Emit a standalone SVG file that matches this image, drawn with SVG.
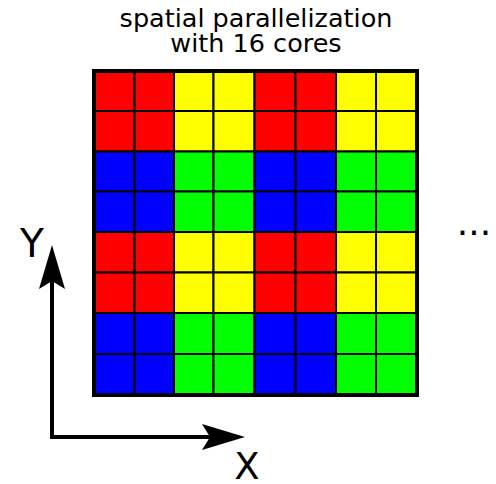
<svg xmlns="http://www.w3.org/2000/svg" width="496" height="484" viewBox="0 0 496 484">
<style>
text{font-family:"DejaVu Sans",sans-serif;fill:#000}
.c{stroke:#000;stroke-width:2}
.r{fill:#ff0000}.y{fill:#ffff00}.b{fill:#0000ff}.g{fill:#00ff00}
.ax{stroke:#000;stroke-width:4;fill:none}
</style>
<rect width="496" height="484" fill="#fff"/>
<g id="title">
<text x="256" y="27" font-size="25.5" text-anchor="middle">spatial parallelization</text>
<text x="256" y="52" font-size="25.5" text-anchor="middle">with 16 cores</text>
</g>
<g id="grid">
<rect x="93.5" y="70.5" width="324" height="325" fill="#000"/>
<g class="c">
<!-- row 0 -->
<rect class="r" x="95" y="72" width="39.5" height="39"/><rect class="r" x="134.5" y="72" width="39.5" height="39"/><rect class="y" x="174" y="72" width="39.5" height="39"/><rect class="y" x="213.5" y="72" width="41" height="39"/><rect class="r" x="254.5" y="72" width="41" height="39"/><rect class="r" x="295.5" y="72" width="40.5" height="39"/><rect class="y" x="336" y="72" width="40" height="39"/><rect class="y" x="376" y="72" width="40" height="39"/>
<!-- row 1 -->
<rect class="r" x="95" y="111" width="39.5" height="40.5"/><rect class="r" x="134.5" y="111" width="39.5" height="40.5"/><rect class="y" x="174" y="111" width="39.5" height="40.5"/><rect class="y" x="213.5" y="111" width="41" height="40.5"/><rect class="r" x="254.5" y="111" width="41" height="40.5"/><rect class="r" x="295.5" y="111" width="40.5" height="40.5"/><rect class="y" x="336" y="111" width="40" height="40.5"/><rect class="y" x="376" y="111" width="40" height="40.5"/>
<!-- row 2 -->
<rect class="b" x="95" y="151.5" width="39.5" height="40"/><rect class="b" x="134.5" y="151.5" width="39.5" height="40"/><rect class="g" x="174" y="151.5" width="39.5" height="40"/><rect class="g" x="213.5" y="151.5" width="41" height="40"/><rect class="b" x="254.5" y="151.5" width="41" height="40"/><rect class="b" x="295.5" y="151.5" width="40.5" height="40"/><rect class="g" x="336" y="151.5" width="40" height="40"/><rect class="g" x="376" y="151.5" width="40" height="40"/>
<!-- row 3 -->
<rect class="b" x="95" y="191.5" width="39.5" height="40.5"/><rect class="b" x="134.5" y="191.5" width="39.5" height="40.5"/><rect class="g" x="174" y="191.5" width="39.5" height="40.5"/><rect class="g" x="213.5" y="191.5" width="41" height="40.5"/><rect class="b" x="254.5" y="191.5" width="41" height="40.5"/><rect class="b" x="295.5" y="191.5" width="40.5" height="40.5"/><rect class="g" x="336" y="191.5" width="40" height="40.5"/><rect class="g" x="376" y="191.5" width="40" height="40.5"/>
<!-- row 4 -->
<rect class="r" x="95" y="232" width="39.5" height="40.5"/><rect class="r" x="134.5" y="232" width="39.5" height="40.5"/><rect class="y" x="174" y="232" width="39.5" height="40.5"/><rect class="y" x="213.5" y="232" width="41" height="40.5"/><rect class="r" x="254.5" y="232" width="41" height="40.5"/><rect class="r" x="295.5" y="232" width="40.5" height="40.5"/><rect class="y" x="336" y="232" width="40" height="40.5"/><rect class="y" x="376" y="232" width="40" height="40.5"/>
<!-- row 5 -->
<rect class="r" x="95" y="272.5" width="39.5" height="40.5"/><rect class="r" x="134.5" y="272.5" width="39.5" height="40.5"/><rect class="y" x="174" y="272.5" width="39.5" height="40.5"/><rect class="y" x="213.5" y="272.5" width="41" height="40.5"/><rect class="r" x="254.5" y="272.5" width="41" height="40.5"/><rect class="r" x="295.5" y="272.5" width="40.5" height="40.5"/><rect class="y" x="336" y="272.5" width="40" height="40.5"/><rect class="y" x="376" y="272.5" width="40" height="40.5"/>
<!-- row 6 -->
<rect class="b" x="95" y="313" width="39.5" height="41"/><rect class="b" x="134.5" y="313" width="39.5" height="41"/><rect class="g" x="174" y="313" width="39.5" height="41"/><rect class="g" x="213.5" y="313" width="41" height="41"/><rect class="b" x="254.5" y="313" width="41" height="41"/><rect class="b" x="295.5" y="313" width="40.5" height="41"/><rect class="g" x="336" y="313" width="40" height="41"/><rect class="g" x="376" y="313" width="40" height="41"/>
<!-- row 7 -->
<rect class="b" x="95" y="354" width="39.5" height="40"/><rect class="b" x="134.5" y="354" width="39.5" height="40"/><rect class="g" x="174" y="354" width="39.5" height="40"/><rect class="g" x="213.5" y="354" width="41" height="40"/><rect class="b" x="254.5" y="354" width="41" height="40"/><rect class="b" x="295.5" y="354" width="40.5" height="40"/><rect class="g" x="336" y="354" width="40" height="40"/><rect class="g" x="376" y="354" width="40" height="40"/>
</g>
<rect x="93.5" y="70.5" width="324" height="325" fill="none" stroke="#000" stroke-width="3"/>
</g>
<g id="axes">
<path class="ax" d="M52,280 V437 H210"/>
<path d="M52,245 L65,289 L52,281 L39,289 Z" fill="#000"/>
<path d="M245,437 L202,424 L210,437 L202,450 Z" fill="#000"/>
</g>
<g id="labels">
<text x="32" y="257" font-size="39" text-anchor="middle">Y</text>
<text x="247" y="479" font-size="37" text-anchor="middle">X</text>
<text x="474" y="235" font-size="36" text-anchor="middle">...</text>
</g>
</svg>
